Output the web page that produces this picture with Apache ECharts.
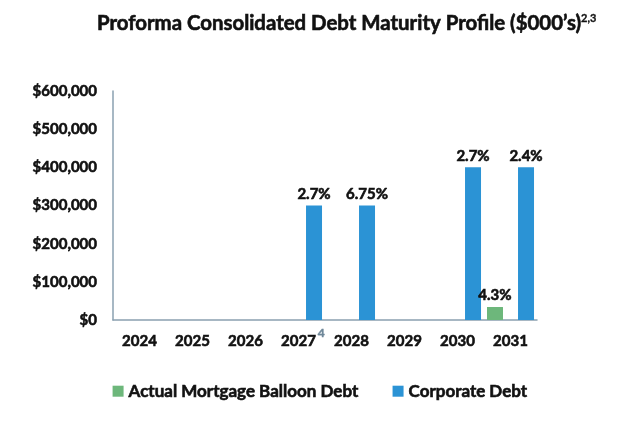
<!DOCTYPE html>
<html><head><meta charset="utf-8">
<script src="https://cdn.jsdelivr.net/npm/echarts@6/dist/echarts.min.js"></script>
<style>html,body{margin:0;padding:0;background:#fff}#c{width:640px;height:429px}</style>
</head><body><div id="c"></div>
<script>
const categories = ['2024','2025','2026','2027','2028','2029','2030','2031'];
const mortgageDebt = [null,null,null,null,null,null,null,34000];
const mortgageLabels = ['','','','','','','','4.3%'];
const corporateDebt = [null,null,null,300000,300000,null,400000,400000];
const corporateLabels = ['','','','2.7%','6.75%','','2.7%','2.4%'];
const footnoteCategory = '2027';
const footnoteText = '4';
const FONT = 'Lato';
const W = 'bold';
const TB = {textBorderColor:'#111', textBorderWidth:0.6};
const chart = echarts.init(document.getElementById('c'));
chart.setOption({
  animation:false,
  textStyle:{fontFamily:FONT},
  title:{
    text:'{t|Proforma Consolidated Debt Maturity Profile ($000\u2019s)}{s|2,3}',
    left:92, top:8,
    textStyle:{rich:{
      t:Object.assign({fontFamily:FONT,fontWeight:W,fontSize:20.4,color:'#111'},TB),
      s:{fontFamily:FONT,fontWeight:W,fontSize:11,color:'#111',verticalAlign:'top',padding:[0,0,8,0],textBorderColor:'#111',textBorderWidth:0.3}
    }}
  },
  legend:{
    bottom:24, left:'center', itemWidth:11, itemHeight:11, itemGap:34,
    icon:'rect',
    textStyle:Object.assign({fontFamily:FONT,fontWeight:W,fontSize:17,color:'#111'},TB),
    data:['Actual Mortgage Balloon Debt','Corporate Debt']
  },
  grid:{left:113,right:103,top:91,bottom:109},
  xAxis:{
    type:'category', data:categories,
    axisLine:{lineStyle:{color:'#8aa0b0',width:1.5}},
    axisTick:{show:false},
    axisLabel:Object.assign({margin:14, interval:0, fontFamily:FONT,fontWeight:W,fontSize:15,color:'#111'},TB)
  },
  yAxis:{
    type:'value', min:0, max:600000, interval:100000,
    splitLine:{show:false},
    axisLine:{show:true,lineStyle:{color:'#8aa0b0',width:1.5}},
    axisTick:{show:false},
    axisLabel:Object.assign({margin:16,fontFamily:FONT,fontWeight:W,fontSize:15,color:'#111',
      formatter:v=>'$'+v.toLocaleString('en-US')},TB)
  },
  series:[
    {name:'Actual Mortgage Balloon Debt', type:'bar', data:mortgageDebt, barWidth:16, barGap:'94%',
     itemStyle:{color:'#6db77b'},
     label:Object.assign({show:true,position:'top',distance:4,fontFamily:FONT,fontWeight:W,fontSize:15,color:'#111',
       formatter:p=>mortgageLabels[p.dataIndex]},TB)},
    {name:'Corporate Debt', type:'bar', data:corporateDebt, barWidth:16,
     itemStyle:{color:'#2b93d5'},
     label:Object.assign({show:true,position:'top',distance:4,fontFamily:FONT,fontWeight:W,fontSize:15,color:'#111',
       formatter:p=>corporateLabels[p.dataIndex]},TB)}
  ]
});
const p = chart.convertToPixel({xAxisIndex:0,yAxisIndex:0},[footnoteCategory,0]);
chart.setOption({graphic:[{type:'text',left:p[0]+19,top:p[1]+7,
  style:{text:footnoteText,fontFamily:FONT,fontWeight:'bold',fontSize:12,fill:'#6e8799',stroke:'#6e8799',lineWidth:0.4}}]});
</script></body></html>
